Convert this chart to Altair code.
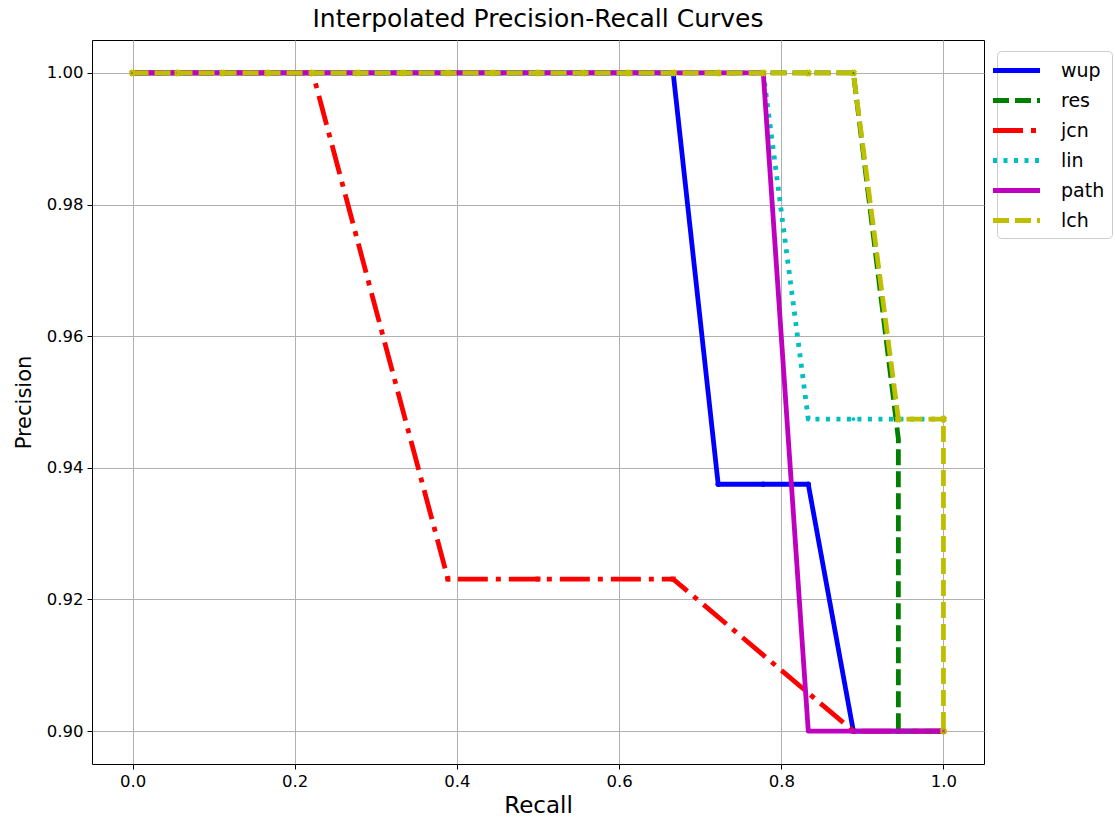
import altair as alt
import pandas as pd

# ---- data ----
series_names = ["wup", "res", "jcn", "lin", "path", "lch"]
series_colors = ["#0000ff", "#008000", "#ff0000", "#00bfbf", "#bf00bf", "#bfbf00"]

wup_recall = [0.0, 0.0556, 0.1111, 0.1667, 0.2222, 0.2778, 0.3333, 0.3889, 0.4444, 0.5,
              0.5556, 0.6111, 0.6667, 0.7222, 0.7778, 0.8333, 0.8889, 0.9444, 1.0]
wup_prec = [1.0, 1.0, 1.0, 1.0, 1.0, 1.0, 1.0, 1.0, 1.0, 1.0,
            1.0, 1.0, 1.0, 0.9375, 0.9375, 0.9375, 0.9, 0.9, 0.9]

res_recall = [0.0, 0.0556, 0.1111, 0.1667, 0.2222, 0.2778, 0.3333, 0.3889, 0.4444, 0.5,
              0.5556, 0.6111, 0.6667, 0.7222, 0.7778, 0.8333, 0.8889, 0.9444, 0.9444, 1.0]
res_prec = [1.0, 1.0, 1.0, 1.0, 1.0, 1.0, 1.0, 1.0, 1.0, 1.0,
            1.0, 1.0, 1.0, 1.0, 1.0, 1.0, 1.0, 0.9444, 0.9, 0.9]

jcn_recall = [0.0, 0.0556, 0.1111, 0.1667, 0.2222, 0.3889, 0.5, 0.6667, 0.8889, 1.0]
jcn_prec = [1.0, 1.0, 1.0, 1.0, 1.0, 0.9231, 0.9231, 0.9231, 0.9, 0.9]

lin_recall = [0.0, 0.0556, 0.1111, 0.1667, 0.2222, 0.2778, 0.3333, 0.3889, 0.4444, 0.5,
              0.5556, 0.6111, 0.6667, 0.7222, 0.7778, 0.8333, 0.8889, 0.9444, 1.0]
lin_prec = [1.0, 1.0, 1.0, 1.0, 1.0, 1.0, 1.0, 1.0, 1.0, 1.0,
            1.0, 1.0, 1.0, 1.0, 1.0, 0.9474, 0.9474, 0.9474, 0.9474]

path_recall = [0.0, 0.0556, 0.1111, 0.1667, 0.2222, 0.2778, 0.3333, 0.3889, 0.4444, 0.5,
               0.5556, 0.6111, 0.6667, 0.7222, 0.7778, 0.8333, 0.8889, 0.9444, 1.0]
path_prec = [1.0, 1.0, 1.0, 1.0, 1.0, 1.0, 1.0, 1.0, 1.0, 1.0,
             1.0, 1.0, 1.0, 1.0, 1.0, 0.9, 0.9, 0.9, 0.9]

lch_recall = [0.0, 0.0556, 0.1111, 0.1667, 0.2222, 0.2778, 0.3333, 0.3889, 0.4444, 0.5,
              0.5556, 0.6111, 0.6667, 0.7222, 0.7778, 0.8333, 0.8889, 0.9444, 1.0, 1.0]
lch_prec = [1.0, 1.0, 1.0, 1.0, 1.0, 1.0, 1.0, 1.0, 1.0, 1.0,
            1.0, 1.0, 1.0, 1.0, 1.0, 1.0, 1.0, 0.9474, 0.9474, 0.9]

x_ticks = [0.0, 0.2, 0.4, 0.6, 0.8, 1.0]
y_ticks = [0.90, 0.92, 0.94, 0.96, 0.98, 1.00]

# ---- table ----
recalls = [wup_recall, res_recall, jcn_recall, lin_recall, path_recall, lch_recall]
precs = [wup_prec, res_prec, jcn_prec, lin_prec, path_prec, lch_prec]
rows = []
for name, rr, pp in zip(series_names, recalls, precs):
    for i, (r, p) in enumerate(zip(rr, pp)):
        rows.append({"series": name, "i": i, "recall": r, "precision": p})
df = pd.DataFrame(rows)

# styles
dashes = [[1, 0], [16, 6], [30, 8, 5, 8], [4, 6.5], [1, 0], [16, 6]]
shapes = ["circle", "triangle-up", "square", "circle", "circle", "cross"]
msizes = [30, 30, 25, 15, 8, 30]
angles = [0, 0, 0, 0, 0, 45]
LW = 4.8
FONT = "DejaVu Sans"

xscale = alt.Scale(domain=[-0.05, 1.05], nice=False, zero=False)
yscale = alt.Scale(domain=[0.895, 1.005], nice=False, zero=False)

xenc = alt.X("recall:Q", scale=xscale,
             axis=alt.Axis(title="Recall", values=x_ticks, format=".1f"))
yenc = alt.Y("precision:Q", scale=yscale,
             axis=alt.Axis(title="Precision", values=y_ticks, format=".2f"))

legend = alt.Legend(
    title=None, orient="none", legendX=905, legendY=11,
    symbolType="M-2.35,0H2.35", symbolSize=400, symbolStrokeWidth=LW,
    labelFont=FONT, labelFontSize=19, labelColor="black",
    rowPadding=7, labelOffset=32, padding=7,
    strokeColor="#cccccc", fillColor="white", cornerRadius=4,
)

color_enc = alt.Color("series:N", scale=alt.Scale(domain=series_names, range=series_colors),
                      legend=legend)
dash_enc = alt.StrokeDash("series:N", scale=alt.Scale(domain=series_names, range=dashes),
                          legend=legend)

base = alt.Chart(df)
layers = []
for k, name in enumerate(series_names):
    sub = base.transform_filter(alt.datum.series == name)
    layers.append(
        sub.mark_line(strokeWidth=LW, strokeCap="butt", strokeJoin="round").encode(
            x=xenc, y=yenc, order="i:Q", color=color_enc, strokeDash=dash_enc
        )
    )
    layers.append(
        sub.mark_point(shape=shapes[k], size=msizes[k], filled=(shapes[k] != "cross"),
                       opacity=1, angle=angles[k], strokeWidth=1.5,
                       color=series_colors[k]).encode(x=xenc, y=yenc)
    )

chart = alt.layer(*layers).properties(
    width=892, height=724,
    title=alt.Title("Interpolated Precision-Recall Curves", font=FONT, fontSize=25,
                    fontWeight="normal", color="black", offset=8),
    autosize=alt.AutoSizeParams(type="none"),
    padding={"left": 92, "top": 40, "right": 131, "bottom": 54},
).configure_view(
    stroke="black", strokeWidth=1
).configure_axis(
    grid=True, gridColor="#b0b0b0", gridWidth=1, domain=False,
    ticks=True, tickColor="black", tickSize=5, tickWidth=1,
    labelFont=FONT, labelFontSize=16.5, labelColor="black", labelPadding=4,
    titleFont=FONT, titleFontWeight="normal", titleColor="black",
).configure_axisX(titlePadding=5, titleFontSize=23).configure_axisY(titlePadding=12, titleFontSize=21)

chart.save("out.html", embed_options={"renderer": "svg", "actions": False})
